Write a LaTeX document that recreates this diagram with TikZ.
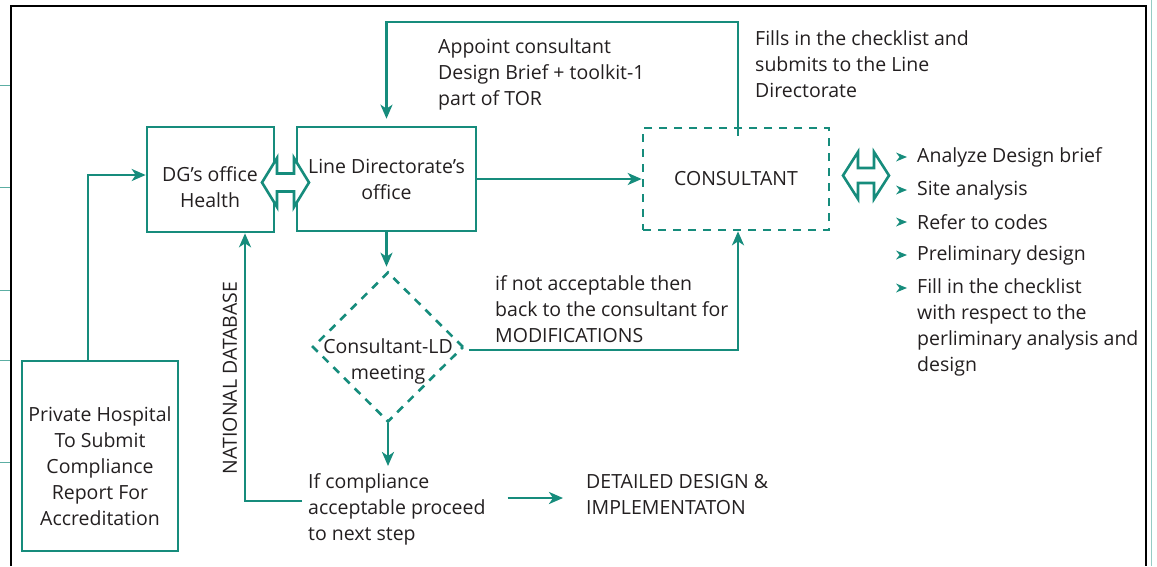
\documentclass[tikz,border=0pt]{standalone}
\usepackage{fontspec}
\setmainfont{Open Sans}
\usetikzlibrary{arrows.meta,shapes.geometric}
\definecolor{hteal}{RGB}{22,140,124}
\definecolor{inkgray}{RGB}{35,31,32}
\begin{document}
\begin{tikzpicture}[x=1pt, y=-1pt,
        every node/.style={font=\fontsize{19.5}{26}\selectfont, text=inkgray},
        box/.style={draw=hteal, line width=2.6pt, inner sep=0pt},
        dbox/.style={box, dash pattern=on 8pt off 7pt},
        txt/.style={align=left, anchor=west, inner sep=0pt},
        ctxt/.style={align=center, inner sep=0pt},
        arr/.style={draw=hteal, line width=2.6pt, -{Stealth[length=14pt,width=12pt,inset=4pt]}},
        dblarr/.style={draw=hteal, fill=white, line width=2.6pt, line join=miter}
        ]
        \useasboundingbox (0,0) rectangle (1157,566);
        % page frame
        \draw[line width=2.6pt] (11,566) -- (11,6) -- (1146,6) -- (1146,566);
        \draw[hteal!45, line width=1pt] (1151,0) -- (1151,566);
        \foreach \y in {85,187,290,360,462}
        \draw[hteal!70, line width=1pt] (0,\y) -- (10,\y);

        % boxes
        \node[box, minimum width=127, minimum height=105] (dg) at (210.5,179.5) {};
        \node[ctxt] (dgtxt) at (210,187.5) {DG’s office\\Health};
        \node[box, minimum width=179, minimum height=104, align=center] (ld) at (386.5,179) {Line Directorate’s\\office};
        \node[dbox, minimum width=186, minimum height=102] (cons) at (736,179) {CONSULTANT};
        \node[dbox, diamond, minimum width=151, minimum height=150] (meet) at (388,347) {};
        \node[ctxt] (meettxt) at (388,361) {Consultant-LD\\meeting};
        \node[box, minimum width=156, minimum height=190] (hosp) at (100,456) {};
        \node[ctxt] (hosptxt) at (100,466) {Private Hospital\\To Submit\\Compliance\\Report For\\Accreditation};

        % two-way arrows
        \draw[dblarr, shift={(285.5,182.5)}] (-23.5,0) -- (-8.5,-24.5) -- (-8.5,-9) -- (8.5,-9) -- (8.5,-24.5)
        -- (23.5,0) -- (8.5,24.5) -- (8.5,9) -- (-8.5,9) -- (-8.5,24.5) -- cycle;
        \draw[dblarr, shift={(866,175.5)}] (-23,0) -- (-8,-23.5) -- (-8,-7.5) -- (8,-7.5) -- (8,-23.5)
        -- (23,0) -- (8,23.5) -- (8,7.5) -- (-8,7.5) -- (-8,23.5) -- cycle;

        % labels
        \node[txt] (appoint) at (438,74) {Appoint consultant\\Design Brief + toolkit-1\\part of TOR};
        \node[txt] (fills) at (755,64) {Fills in the checklist and\\submits to the Line\\Directorate};
        \node[txt] (notacc) at (495,309) {if not acceptable then\\back to the consultant for\\MODIFICATIONS};
        \node[txt] (next) at (308,509) {If compliance\\acceptable proceed\\to next step};
        \node[txt] (detail) at (586,495) {DETAILED DESIGN \&\\IMPLEMENTATON};
        \node[ctxt, rotate=90] (natdb) at (230,378) {NATIONAL DATABASE};

        % consultant tasks
        \node[txt] (task1) at (917,157) {Analyze Design brief};
        \node[txt] (task2) at (917,190) {Site analysis};
        \node[txt] (task3) at (917,222) {Refer to codes};
        \node[txt] (task4) at (917,255) {Preliminary design};
        \node[txt] (task5) at (917,327.5) {Fill in the checklist\\with respect to the\\perliminary analysis and\\design};
        \foreach \y in {157,190,222,255,288}
        \fill[hteal] (896,\y-4.5) -- (907,\y) -- (896,\y+4.5) -- (899.5,\y) -- cycle;

        % connectors
        \draw[arr] ([xshift=-12pt]hosp.north) |- ([yshift=4.5pt]dg.west);
        \draw[arr] (ld.east) -- (cons.west);
        \draw[arr, shorten >=7pt] ([shift={(2pt,-9pt)}]cons.north) |- (ld.north |- 0,22) -- (ld.north);
        \draw[arr, shorten >=4pt] (ld.south) -- (ld.south |- meet.north);
        \draw[arr, shorten <=4pt] ([yshift=-3pt]meet.east) -| ([xshift=2pt]cons.south);
        \draw[arr, shorten >=7pt] (meet.south) -- (meet.south |- next.north);
        \draw[arr, shorten <=22pt, shorten >=23pt] ([yshift=11pt]next.east) -- (detail.west |- 0,498);
        \draw[arr] ([shift={(-6pt,8pt)}]next.west) -| ([xshift=34.5pt]dg.south);
    \end{tikzpicture}
\end{document}
